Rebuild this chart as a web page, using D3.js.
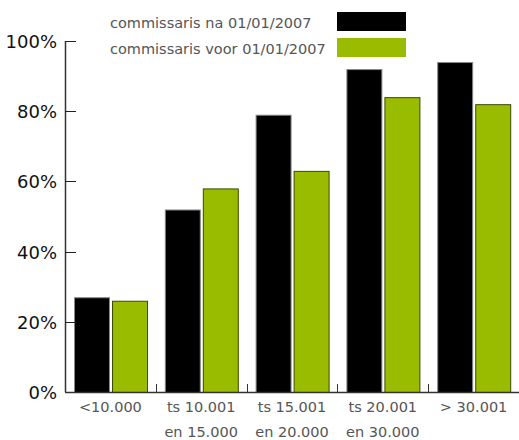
<!DOCTYPE html>
<html>
<head>
<meta charset="utf-8">
<script src="https://cdn.jsdelivr.net/npm/d3@7"></script>
<style>
  body { margin: 0; background: #fff; }
  text { font-family: "DejaVu Sans", sans-serif; }
</style>
</head>
<body>
<div id="chart"></div>
<script>
// data
var categories = [["<10.000"], ["ts 10.001", "en 15.000"], ["ts 15.001", "en 20.000"], ["ts 20.001", "en 30.000"], ["> 30.001"]];
var seriesNames = ["commissaris na 01/01/2007", "commissaris voor 01/01/2007"];
var naValues = [27, 52, 79, 92, 94];
var voorValues = [26, 58, 63, 84, 82];
var yTicks = [0, 20, 40, 60, 80, 100];
var colors = ["#000000", "#99bb00"];
var strokes = ["#888888", "#3a4a00"];

var width = 519, height = 440;
var plotLeft = 65, plotRight = 519, plotTop = 41, plotBottom = 392;

var svg = d3.select("#chart").append("svg")
    .attr("width", width)
    .attr("height", height);

var y = d3.scaleLinear().domain([0, 100]).range([plotBottom, plotTop]);
var x = d3.scaleBand().domain(d3.range(categories.length)).range([plotLeft, plotRight]);
var inner = d3.scaleBand().domain([0, 1]).range([9, 82]).paddingInner(0.08);

var series = [naValues, voorValues];

// bars
series.forEach(function(vals, s){
    svg.append("g").selectAll("rect")
        .data(vals)
        .enter()
        .append("rect")
        .attr("x", (d, i) => x(i) + inner(s) + 0.5)
        .attr("y", d => y(d) + 0.5)
        .attr("width", inner.bandwidth())
        .attr("height", d => plotBottom - y(d))
        .attr("fill", colors[s])
        .attr("stroke", strokes[s])
        .attr("stroke-width", 1);
});

// y axis
var yAxis = svg.append("g").attr("transform", "translate(" + plotLeft + ",0)");
yAxis.append("line")
    .attr("x1", 0.5).attr("x2", 0.5)
    .attr("y1", plotTop).attr("y2", plotBottom)
    .style("stroke", "#333").style("stroke-width", 1.5);
yAxis.selectAll(".tk")
    .data(yTicks)
    .enter()
    .append("line")
    .attr("x1", 0).attr("x2", 11)
    .attr("y1", d => Math.round(y(d)) + 0.5).attr("y2", d => Math.round(y(d)) + 0.5)
    .style("stroke", "#222").style("stroke-width", 1);
yAxis.selectAll("text")
    .data(yTicks)
    .enter()
    .append("text")
    .attr("x", -8)
    .attr("y", d => y(d) + 7)
    .attr("text-anchor", "end")
    .attr("font-size", "18px")
    .attr("fill", "#111")
    .text(d => d + "%");

// x axis
svg.append("line")
    .attr("x1", plotLeft).attr("x2", plotRight)
    .attr("y1", plotBottom + 0.5).attr("y2", plotBottom + 0.5)
    .style("stroke", "#333").style("stroke-width", 1.5);
svg.append("g").selectAll("line")
    .data(d3.range(1, categories.length))
    .enter()
    .append("line")
    .attr("x1", i => Math.round(x(i)) + 0.5).attr("x2", i => Math.round(x(i)) + 0.5)
    .attr("y1", plotBottom).attr("y2", plotBottom - 8)
    .style("stroke", "#333").style("stroke-width", 1);

var xl = svg.append("g").selectAll("text")
    .data(categories)
    .enter()
    .append("text")
    .attr("text-anchor", "middle")
    .attr("font-size", "14.5px")
    .attr("fill", "#555");
xl.each(function(lines, i){
    var t = d3.select(this);
    lines.forEach(function(l, j){
        t.append("tspan")
            .attr("x", x(i) + x.bandwidth() / 2)
            .attr("y", 412 + j * 25)
            .text(l);
    });
});

// legend
var lg = svg.append("g");
seriesNames.forEach(function(name, s){
    lg.append("text")
        .attr("x", 110)
        .attr("y", 28 + s * 26)
        .attr("font-size", "14.5px")
        .attr("fill", "#555")
        .text(name);
    lg.append("rect")
        .attr("x", 337)
        .attr("y", 12 + s * 26)
        .attr("width", 69)
        .attr("height", 19)
        .attr("fill", colors[s]);
});
</script>
</body>
</html>
